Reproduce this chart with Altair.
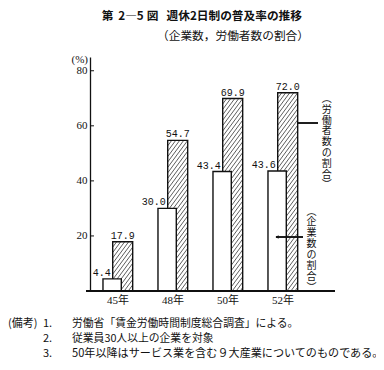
import altair as alt
import pandas as pd

# ---- data ----
years = ["45年", "48年", "50年", "52年"]
companies = [4.4, 30.0, 43.4, 43.6]      # 企業数の割合 (white bars)
workers = [17.9, 54.7, 69.9, 72.0]       # 労働者数の割合 (hatched bars)
y_ticks = [20, 40, 60, 80]
title_parts = ["第", "2―5", "図"]
title_main = "週休2日制の普及率の推移"
subtitle_text = "（企業数，労働者数の割合）"
workers_label = ["︵", "労", "働", "者", "数", "の", "割", "合", "︶"]
companies_label = ["︵", "企", "業", "数", "の", "割", "合", "︶"]
notes_head = "(備考)"
notes_no = ["1.", "2.", "3."]
notes_text = [
    "労働省「賃金労働時間制度総合調査」による。",
    "従業員30人以上の企業を対象",
    "50年以降はサービス業を含む９大産業についてのものである。",
]

# ---- layout ----
W, H = 245, 234
STEP = 55.0
XD = [-0.5, -0.5 + W / STEP]
YD = [0, 85]
PX_X = STEP
PX_Y = H / (YD[1] - YD[0])
TOP = 57  # page y of plot top
LEFT = 90  # page x of plot left

WHITE_OFF = (-0.264, 0.069)
HATCH_OFF = (-0.087, 0.276)

idx = list(range(len(years)))
df = pd.DataFrame({
    "i": idx, "year": years, "c": companies, "w": workers,
    "cx0": [i + WHITE_OFF[0] for i in idx], "cx1": [i + WHITE_OFF[1] for i in idx],
    "wx0": [i + HATCH_OFF[0] for i in idx], "wx1": [i + HATCH_OFF[1] for i in idx],
})
df["zero"] = 0
df["wxc"] = (df.wx0 + df.wx1) / 2
df["clab"] = [f"{v:.1f}" for v in companies]
df["wlab"] = [f"{v:.1f}" for v in workers]

# hatch segments derived from the hatched bars' extents
k, s = 1.35, 4.0
segs = []
for _, r in df.iterrows():
    x0p = (r.wx0 - XD[0]) * PX_X
    x1p = (r.wx1 - XD[0]) * PX_X
    tp = r.w * PX_Y
    c = x0p - tp / k
    while c < x1p:
        xs_ = max(c, x0p)
        xe_ = min(c + tp / k, x1p)
        if xe_ > xs_:
            segs.append({
                "x": xs_ / PX_X + XD[0], "x2": xe_ / PX_X + XD[0],
                "y": k * (xs_ - c) / PX_Y, "y2": k * (xe_ - c) / PX_Y,
            })
        c += s
hatch = pd.DataFrame(segs)

xs = alt.Scale(domain=XD, nice=False, zero=False)
ys = alt.Scale(domain=YD, nice=False)
lab_expr = "[" + ",".join(f"'{y}'" for y in years) + "][datum.value]"

base = alt.Chart(df)

hatch_lines = alt.Chart(hatch).mark_rule(color="#333", strokeWidth=0.8).encode(
    x=alt.X("x:Q", scale=xs, axis=alt.Axis(
        values=idx, labelExpr=lab_expr, ticks=False, tickSize=0, domain=False,
        grid=False, title=None, labelFont="Liberation Serif, Noto Sans CJK JP",
        labelFontSize=11, labelColor="#111", labelBaseline="middle", labelPadding=9)),
    x2="x2:Q",
    y=alt.Y("y:Q", scale=ys, axis=alt.Axis(
        values=y_ticks, ticks=False, tickSize=0, grid=False, title=None,
        domainColor="#111", domainWidth=1.3, labelFont="Liberation Serif",
        labelFontSize=11, labelColor="#111", labelPadding=3)),
    y2="y2:Q",
)

hatch_outline = base.mark_rect(fillOpacity=0, stroke="#111", strokeWidth=1.4).encode(
    x="wx0:Q", x2="wx1:Q", y="w:Q", y2="zero:Q")

white_bars = base.mark_rect(fill="white", stroke="#111", strokeWidth=1.4).encode(
    x="cx0:Q", x2="cx1:Q", y="c:Q", y2="zero:Q")

w_labels = base.mark_text(font="Liberation Mono", fontSize=10, color="#111",
                          baseline="alphabetic", dy=-3).encode(
    x="wxc:Q", y="w:Q", text="wlab:N")

c_labels = base.mark_text(font="Liberation Mono", fontSize=10, color="#111",
                          baseline="alphabetic", align="right", dx=-2, dy=-3).encode(
    x="wx0:Q", y="c:Q", text="clab:N")

baseline = base.mark_rule(color="#111", strokeWidth=1.3).encode(
    x=alt.value(-4), x2=alt.value(W), y=alt.value(H))

ticks = alt.Chart(pd.DataFrame({"v": y_ticks})).mark_rule(color="#111", strokeWidth=1).encode(
    y="v:Q", x=alt.value(0), x2=alt.value(4))


def txt(text, px, py, size=11, font="Noto Sans CJK JP", align="left", weight="normal"):
    """text placed at page coordinates (px, py)"""
    return alt.Chart(pd.DataFrame({"a": [0]})).mark_text(
        font=font, fontSize=size, align=align, fontWeight=weight,
        baseline="middle", color="#111").encode(
        x=alt.value(px - LEFT), y=alt.value(py - TOP), text=alt.value(text))


ann_line1 = base.mark_rule(color="#111", strokeWidth=1).encode(
    x=alt.value(297 - LEFT), x2=alt.value(318 - LEFT), y=alt.value(123 - TOP))
ann_line2 = base.mark_rule(color="#111", strokeWidth=1).encode(
    x=alt.value(276 - LEFT), x2=alt.value(303 - LEFT), y=alt.value(237 - TOP))
arrow = alt.Chart(pd.DataFrame({"a": [0]})).mark_point(
    shape="triangle-left", filled=True, color="#111", size=14, opacity=1).encode(
    x=alt.value(277 - LEFT), y=alt.value(237 - TOP))

texts = [
    txt(title_parts[0], 107.5, 16, size=11.7, align="center", weight="bold"),
    txt(title_parts[1], 131, 16, size=11.7, align="center", weight="bold"),
    txt(title_parts[2], 152.5, 16, size=11.7, align="center", weight="bold"),
    txt(title_main, 302, 16, size=11.7, align="right", weight="bold"),
    txt(subtitle_text, 309, 35.5, size=11.7, align="right"),
    txt("(%)", 88, 60, size=11, font="Liberation Serif", align="right"),
    txt(notes_head, 8, 323.5, size=11),
]
for j, ch in enumerate(workers_label):
    texts.append(txt(ch, 326.7, 99 + 10.8 * j, size=10, align="center"))
for j, ch in enumerate(companies_label):
    texts.append(txt(ch, 311.5, 211.5 + 10.9 * j, size=10, align="center"))
note_sizes = [10.8, 10.8, 11.1]
for j, (n, t) in enumerate(zip(notes_no, notes_text)):
    yy = [323.5, 339, 354][j]
    texts.append(txt(n, 43, yy, size=11))
    texts.append(txt(t, 72, yy, size=note_sizes[j]))

chart = alt.layer(
    hatch_lines, hatch_outline, white_bars, baseline, ticks, w_labels, c_labels,
    ann_line1, ann_line2, arrow, *texts
).properties(
    width=W, height=H,
    autosize=alt.AutoSizeParams(type="none"),
    padding={"left": LEFT - 8, "top": TOP - 8, "right": 376 - LEFT - W, "bottom": 362 - TOP - H},
    background="white",
).configure_view(stroke=None)

chart.save("out.html", embed_options={"renderer": "svg", "actions": False})
